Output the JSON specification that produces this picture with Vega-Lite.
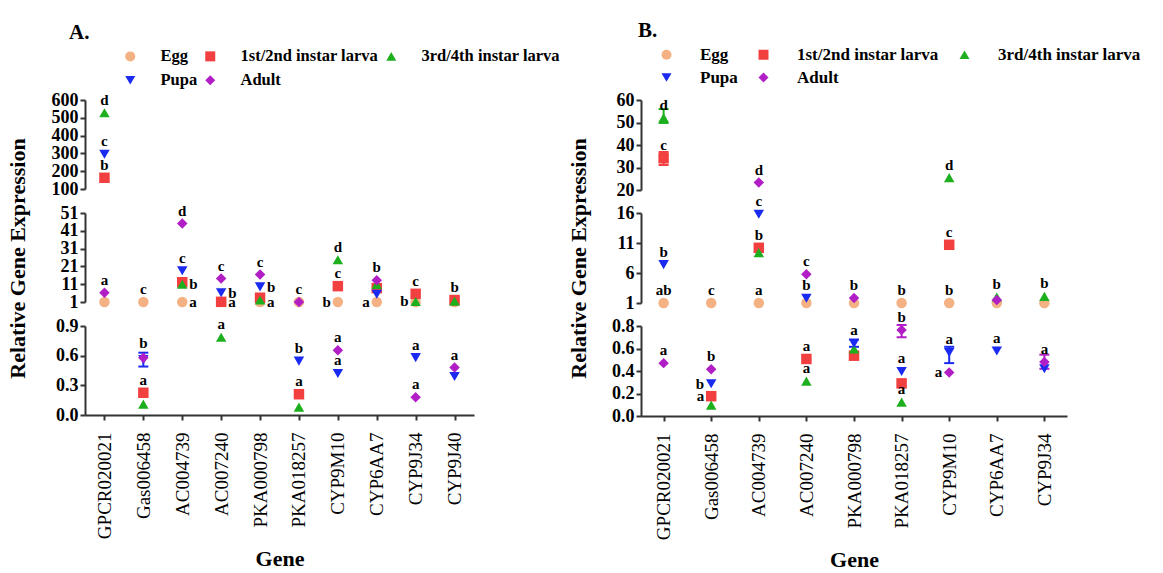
{
"$schema":"https://vega.github.io/schema/vega-lite/v6.json",
"padding":{"left":5,"top":20,"right":5,"bottom":3},
"config":{
 "font":"Liberation Serif",
 "view":{"stroke":null},
 "axis":{"grid":false,"domainColor":"#333333","domainWidth":2,"tickColor":"#333333","tickWidth":2,"tickSize":5,"labelColor":"black","titleColor":"black","labelFont":"Liberation Serif","titleFont":"Liberation Serif"},
 "axisY":{"labelFontSize":18,"labelFontWeight":"bold","labelPadding":2,"labelOverlap":false,"labelFlush":false},
 "axisX":{"labelFontSize":19,"labelFontWeight":"normal","labelAngle":270,"labelPadding":12,"titleFontSize":22,"titleFontWeight":"bold","titlePadding":10,"labelOverlap":false}
},
"datasets":{
 "A":[
  {"gene":"GPCR020021","stage":"Egg","value":1},{"gene":"GPCR020021","stage":"1st/2nd instar larva","value":163},{"gene":"GPCR020021","stage":"3rd/4th instar larva","value":528},{"gene":"GPCR020021","stage":"Pupa","value":295},{"gene":"GPCR020021","stage":"Adult","value":6.2},
  {"gene":"Gas006458","stage":"Egg","value":1},{"gene":"Gas006458","stage":"1st/2nd instar larva","value":0.225},{"gene":"Gas006458","stage":"3rd/4th instar larva","value":0.11},{"gene":"Gas006458","stage":"Pupa","value":0.56},{"gene":"Gas006458","stage":"Adult","value":0.58},
  {"gene":"AC004739","stage":"Egg","value":1},{"gene":"AC004739","stage":"1st/2nd instar larva","value":12.1},{"gene":"AC004739","stage":"3rd/4th instar larva","value":11},{"gene":"AC004739","stage":"Pupa","value":18.6},{"gene":"AC004739","stage":"Adult","value":45.1},
  {"gene":"AC007240","stage":"Egg","value":1},{"gene":"AC007240","stage":"1st/2nd instar larva","value":1.1},{"gene":"AC007240","stage":"3rd/4th instar larva","value":0.787},{"gene":"AC007240","stage":"Pupa","value":6.2},{"gene":"AC007240","stage":"Adult","value":14.2},
  {"gene":"PKA000798","stage":"Egg","value":1},{"gene":"PKA000798","stage":"1st/2nd instar larva","value":3.4},{"gene":"PKA000798","stage":"3rd/4th instar larva","value":2.1},{"gene":"PKA000798","stage":"Pupa","value":9.5},{"gene":"PKA000798","stage":"Adult","value":16.4},
  {"gene":"PKA018257","stage":"Egg","value":1},{"gene":"PKA018257","stage":"1st/2nd instar larva","value":0.21},{"gene":"PKA018257","stage":"3rd/4th instar larva","value":0.08},{"gene":"PKA018257","stage":"Pupa","value":0.545},{"gene":"PKA018257","stage":"Adult","value":1.05},
  {"gene":"CYP9M10","stage":"Egg","value":1},{"gene":"CYP9M10","stage":"1st/2nd instar larva","value":9.9},{"gene":"CYP9M10","stage":"3rd/4th instar larva","value":24.7},{"gene":"CYP9M10","stage":"Pupa","value":0.42},{"gene":"CYP9M10","stage":"Adult","value":0.654},
  {"gene":"CYP6AA7","stage":"Egg","value":1},{"gene":"CYP6AA7","stage":"1st/2nd instar larva","value":8.8},{"gene":"CYP6AA7","stage":"3rd/4th instar larva","value":10.8},{"gene":"CYP6AA7","stage":"Pupa","value":5.4},{"gene":"CYP6AA7","stage":"Adult","value":13.2},
  {"gene":"CYP9J34","stage":"Egg","value":1},{"gene":"CYP9J34","stage":"1st/2nd instar larva","value":5.6},{"gene":"CYP9J34","stage":"3rd/4th instar larva","value":1.3},{"gene":"CYP9J34","stage":"Pupa","value":0.58},{"gene":"CYP9J34","stage":"Adult","value":0.18},
  {"gene":"CYP9J40","stage":"Egg","value":1},{"gene":"CYP9J40","stage":"1st/2nd instar larva","value":2.1},{"gene":"CYP9J40","stage":"3rd/4th instar larva","value":1.5},{"gene":"CYP9J40","stage":"Pupa","value":0.39},{"gene":"CYP9J40","stage":"Adult","value":0.48}
 ],
 "Aerr":[{"gene":"Gas006458","stage":"Pupa","lo":0.49,"hi":0.63}],
 "Aabove":[
  {"gene":"GPCR020021","stage":"1st/2nd instar larva","value":163,"letter":"b"},{"gene":"GPCR020021","stage":"3rd/4th instar larva","value":528,"letter":"d"},{"gene":"GPCR020021","stage":"Pupa","value":295,"letter":"c"},{"gene":"GPCR020021","stage":"Adult","value":6.2,"letter":"a"},
  {"gene":"Gas006458","stage":"Egg","value":1,"letter":"c"},{"gene":"Gas006458","stage":"1st/2nd instar larva","value":0.225,"letter":"a"},{"gene":"Gas006458","stage":"Pupa","value":0.6,"letter":"b"},
  {"gene":"AC004739","stage":"Pupa","value":18.6,"letter":"c"},{"gene":"AC004739","stage":"Adult","value":45.1,"letter":"d"},
  {"gene":"AC007240","stage":"3rd/4th instar larva","value":0.787,"letter":"a"},{"gene":"AC007240","stage":"Adult","value":14.2,"letter":"c"},
  {"gene":"PKA000798","stage":"Adult","value":16.4,"letter":"c"},
  {"gene":"PKA018257","stage":"1st/2nd instar larva","value":0.21,"letter":"a"},{"gene":"PKA018257","stage":"Pupa","value":0.545,"letter":"b"},{"gene":"PKA018257","stage":"Adult","value":1.05,"letter":"c"},
  {"gene":"CYP9M10","stage":"1st/2nd instar larva","value":9.9,"letter":"c"},{"gene":"CYP9M10","stage":"3rd/4th instar larva","value":24.7,"letter":"d"},{"gene":"CYP9M10","stage":"Pupa","value":0.42,"letter":"a"},{"gene":"CYP9M10","stage":"Adult","value":0.654,"letter":"a"},
  {"gene":"CYP6AA7","stage":"Adult","value":13.2,"letter":"b"},
  {"gene":"CYP9J34","stage":"1st/2nd instar larva","value":5.6,"letter":"c"},{"gene":"CYP9J34","stage":"Pupa","value":0.58,"letter":"a"},{"gene":"CYP9J34","stage":"Adult","value":0.18,"letter":"a"},
  {"gene":"CYP9J40","stage":"1st/2nd instar larva","value":2.1,"letter":"b"},{"gene":"CYP9J40","stage":"Adult","value":0.48,"letter":"a"}
 ],
 "Aright":[
  {"gene":"AC004739","stage":"Egg","value":1,"letter":"a"},{"gene":"AC004739","stage":"3rd/4th instar larva","value":11,"letter":"b"},
  {"gene":"AC007240","stage":"1st/2nd instar larva","value":1.1,"letter":"a"},{"gene":"AC007240","stage":"Pupa","value":6.2,"letter":"b"},
  {"gene":"PKA000798","stage":"Egg","value":1,"letter":"a"},{"gene":"PKA000798","stage":"Pupa","value":9.5,"letter":"b"}
 ],
 "Aleft":[
  {"gene":"CYP9M10","stage":"Egg","value":1,"letter":"b"},{"gene":"CYP6AA7","stage":"Egg","value":1,"letter":"a"},{"gene":"CYP9J34","stage":"3rd/4th instar larva","value":1.3,"letter":"b"}
 ],
 "B":[
  {"gene":"GPCR020021","stage":"Egg","value":1},{"gene":"GPCR020021","stage":"1st/2nd instar larva","value":34.1},{"gene":"GPCR020021","stage":"3rd/4th instar larva","value":52.1},{"gene":"GPCR020021","stage":"Pupa","value":7.4},{"gene":"GPCR020021","stage":"Adult","value":0.47},
  {"gene":"Gas006458","stage":"Egg","value":1},{"gene":"Gas006458","stage":"1st/2nd instar larva","value":0.176},{"gene":"Gas006458","stage":"3rd/4th instar larva","value":0.097},{"gene":"Gas006458","stage":"Pupa","value":0.287},{"gene":"Gas006458","stage":"Adult","value":0.416},
  {"gene":"AC004739","stage":"Egg","value":1},{"gene":"AC004739","stage":"1st/2nd instar larva","value":10.2},{"gene":"AC004739","stage":"3rd/4th instar larva","value":9.4},{"gene":"AC004739","stage":"Pupa","value":15.8},{"gene":"AC004739","stage":"Adult","value":23.3},
  {"gene":"AC007240","stage":"Egg","value":1},{"gene":"AC007240","stage":"1st/2nd instar larva","value":0.507},{"gene":"AC007240","stage":"3rd/4th instar larva","value":0.31},{"gene":"AC007240","stage":"Pupa","value":1.8},{"gene":"AC007240","stage":"Adult","value":5.8},
  {"gene":"PKA000798","stage":"Egg","value":1},{"gene":"PKA000798","stage":"1st/2nd instar larva","value":0.536},{"gene":"PKA000798","stage":"3rd/4th instar larva","value":0.595},{"gene":"PKA000798","stage":"Pupa","value":0.645},{"gene":"PKA000798","stage":"Adult","value":1.83},
  {"gene":"PKA018257","stage":"Egg","value":1},{"gene":"PKA018257","stage":"1st/2nd instar larva","value":0.29},{"gene":"PKA018257","stage":"3rd/4th instar larva","value":0.123},{"gene":"PKA018257","stage":"Pupa","value":0.396},{"gene":"PKA018257","stage":"Adult","value":0.765},
  {"gene":"CYP9M10","stage":"Egg","value":1},{"gene":"CYP9M10","stage":"1st/2nd instar larva","value":10.7},{"gene":"CYP9M10","stage":"3rd/4th instar larva","value":25.5},{"gene":"CYP9M10","stage":"Pupa","value":0.565},{"gene":"CYP9M10","stage":"Adult","value":0.387},
  {"gene":"CYP6AA7","stage":"Egg","value":1},{"gene":"CYP6AA7","stage":"3rd/4th instar larva","value":2.0},{"gene":"CYP6AA7","stage":"Pupa","value":0.578},{"gene":"CYP6AA7","stage":"Adult","value":1.5},
  {"gene":"CYP9J34","stage":"Egg","value":1},{"gene":"CYP9J34","stage":"3rd/4th instar larva","value":2.1},{"gene":"CYP9J34","stage":"Pupa","value":0.42},{"gene":"CYP9J34","stage":"Adult","value":0.48}
 ],
 "Berr":[
  {"gene":"GPCR020021","stage":"1st/2nd instar larva","lo":31.1,"hi":36.9},{"gene":"GPCR020021","stage":"3rd/4th instar larva","lo":49.8,"hi":56},
  {"gene":"PKA000798","stage":"Pupa","lo":0.615,"hi":0.68},{"gene":"PKA018257","stage":"Adult","lo":0.7,"hi":0.81},
  {"gene":"CYP9M10","stage":"Pupa","lo":0.47,"hi":0.615},{"gene":"CYP9J34","stage":"Adult","lo":0.42,"hi":0.545}
 ],
 "Babove":[
  {"gene":"GPCR020021","stage":"Egg","value":1,"letter":"ab"},{"gene":"GPCR020021","stage":"1st/2nd instar larva","value":34.1,"letter":"c"},{"gene":"GPCR020021","stage":"3rd/4th instar larva","value":52.1,"letter":"d"},{"gene":"GPCR020021","stage":"Pupa","value":7.4,"letter":"b"},{"gene":"GPCR020021","stage":"Adult","value":0.47,"letter":"a"},
  {"gene":"Gas006458","stage":"Egg","value":1,"letter":"c"},{"gene":"Gas006458","stage":"Adult","value":0.416,"letter":"b"},
  {"gene":"AC004739","stage":"Egg","value":1,"letter":"a"},{"gene":"AC004739","stage":"1st/2nd instar larva","value":10.2,"letter":"b"},{"gene":"AC004739","stage":"Pupa","value":15.8,"letter":"c"},{"gene":"AC004739","stage":"Adult","value":23.3,"letter":"d"},
  {"gene":"AC007240","stage":"1st/2nd instar larva","value":0.507,"letter":"a"},{"gene":"AC007240","stage":"3rd/4th instar larva","value":0.31,"letter":"a"},{"gene":"AC007240","stage":"Pupa","value":1.8,"letter":"b"},{"gene":"AC007240","stage":"Adult","value":5.8,"letter":"c"},
  {"gene":"PKA000798","stage":"Pupa","value":0.645,"letter":"a"},{"gene":"PKA000798","stage":"Adult","value":1.83,"letter":"b"},
  {"gene":"PKA018257","stage":"Egg","value":1,"letter":"b"},{"gene":"PKA018257","stage":"3rd/4th instar larva","value":0.123,"letter":"a"},{"gene":"PKA018257","stage":"Pupa","value":0.396,"letter":"a"},{"gene":"PKA018257","stage":"Adult","value":0.765,"letter":"b"},
  {"gene":"CYP9M10","stage":"Egg","value":1,"letter":"b"},{"gene":"CYP9M10","stage":"1st/2nd instar larva","value":10.7,"letter":"c"},{"gene":"CYP9M10","stage":"3rd/4th instar larva","value":25.5,"letter":"d"},{"gene":"CYP9M10","stage":"Pupa","value":0.565,"letter":"a"},
  {"gene":"CYP6AA7","stage":"3rd/4th instar larva","value":2.0,"letter":"b"},{"gene":"CYP6AA7","stage":"Pupa","value":0.578,"letter":"a"},
  {"gene":"CYP9J34","stage":"3rd/4th instar larva","value":2.1,"letter":"b"},{"gene":"CYP9J34","stage":"Adult","value":0.48,"letter":"a"}
 ],
 "Bleft":[
  {"gene":"Gas006458","stage":"1st/2nd instar larva","value":0.176,"letter":"a"},{"gene":"Gas006458","stage":"Pupa","value":0.287,"letter":"b"},{"gene":"CYP9M10","stage":"Adult","value":0.387,"letter":"a"}
 ]
},
"spacing":6,
"resolve":{"scale":{"color":"independent","shape":"independent"}},
"hconcat":[
 {
  "title":{"text":"A.","anchor":"start","frame":"group","fontSize":21,"fontWeight":"bold","font":"Liberation Serif","color":"black","dx":-16,"offset":5},
  "bounds":"flush",
  "spacing":24,
  "resolve":{"scale":{"color":"shared","shape":"shared","x":"independent","y":"independent"}},
  "vconcat":[
   {
    "width":389,"height":89,
    "encoding":{
     "x":{"field":"gene","type":"nominal","scale":{"type":"point","domain":["GPCR020021","Gas006458","AC004739","AC007240","PKA000798","PKA018257","CYP9M10","CYP6AA7","CYP9J34","CYP9J40"],"padding":0.5},"axis":null},
     "y":{"field":"value","type":"quantitative","scale":{"domain":[100,600],"nice":false,"zero":false},"axis":{"values":[100,200,300,400,500,600],"format":"d","title":null}}
    },
    "layer":[
     {"data":{"name":"A"},"transform":[{"filter":"datum.value >= 100"}],"mark":{"type":"point","filled":true,"size":110,"opacity":1,"strokeWidth":0},
      "encoding":{
       "color":{"field":"stage","type":"nominal","scale":{"domain":["Egg","1st/2nd instar larva","3rd/4th instar larva","Pupa","Adult"],"range":["#F4B183","#F23F3F","#1DAF1D","#1A2AF0","#B21EC6"]},"legend":{"title":null,"orient":"none","direction":"horizontal","legendX":37,"legendY":-52,"columns":3,"labelFont":"Liberation Serif","labelFontSize":16.5,"labelFontWeight":"bold","labelColor":"black","labelOffset":22,"columnPadding":4,"rowPadding":7,"symbolSize":100,"symbolStrokeWidth":0,"symbolOpacity":1,"padding":0,"labelLimit":400}},
       "shape":{"field":"stage","type":"nominal","scale":{"domain":["Egg","1st/2nd instar larva","3rd/4th instar larva","Pupa","Adult"],"range":["circle","square","triangle-up","triangle-down","diamond"]},"legend":{"title":null,"orient":"none","direction":"horizontal","legendX":37,"legendY":-52,"columns":3,"labelFont":"Liberation Serif","labelFontSize":16.5,"labelFontWeight":"bold","labelColor":"black","labelOffset":22,"columnPadding":4,"rowPadding":7,"symbolSize":100,"symbolStrokeWidth":0,"symbolOpacity":1,"padding":0,"labelLimit":400}}
      }},
     {"data":{"name":"Aabove"},"transform":[{"filter":"datum.value >= 100"}],"mark":{"type":"text","dy":-13,"font":"Liberation Serif","fontSize":15,"fontWeight":"bold","color":"black","baseline":"middle","align":"center"},"encoding":{"text":{"field":"letter"}}}
    ]
   },
   {
    "width":389,"height":89,
    "encoding":{
     "x":{"field":"gene","type":"nominal","scale":{"type":"point","domain":["GPCR020021","Gas006458","AC004739","AC007240","PKA000798","PKA018257","CYP9M10","CYP6AA7","CYP9J34","CYP9J40"],"padding":0.5},"axis":null},
     "y":{"field":"value","type":"quantitative","scale":{"domain":[1,51],"nice":false,"zero":false},"axis":{"values":[1,11,21,31,41,51],"format":"d","title":"Relative Gene Expression","titleFontSize":22,"titleFontWeight":"bold","titleX":-56,"titleY":45,"titleAngle":270,"titleBaseline":"bottom","titleAlign":"center"}}
    },
    "layer":[
     {"data":{"name":"A"},"transform":[{"filter":"datum.value >= 1 && datum.value < 100"}],"mark":{"type":"point","filled":true,"size":110,"opacity":1,"strokeWidth":0},
      "encoding":{
       "color":{"field":"stage","type":"nominal","scale":{"domain":["Egg","1st/2nd instar larva","3rd/4th instar larva","Pupa","Adult"],"range":["#F4B183","#F23F3F","#1DAF1D","#1A2AF0","#B21EC6"]},"legend":{"title":null,"orient":"none","direction":"horizontal","legendX":37,"legendY":-52,"columns":3,"labelFont":"Liberation Serif","labelFontSize":16.5,"labelFontWeight":"bold","labelColor":"black","labelOffset":22,"columnPadding":4,"rowPadding":7,"symbolSize":100,"symbolStrokeWidth":0,"symbolOpacity":1,"padding":0,"labelLimit":400}},
       "shape":{"field":"stage","type":"nominal","scale":{"domain":["Egg","1st/2nd instar larva","3rd/4th instar larva","Pupa","Adult"],"range":["circle","square","triangle-up","triangle-down","diamond"]},"legend":{"title":null,"orient":"none","direction":"horizontal","legendX":37,"legendY":-52,"columns":3,"labelFont":"Liberation Serif","labelFontSize":16.5,"labelFontWeight":"bold","labelColor":"black","labelOffset":22,"columnPadding":4,"rowPadding":7,"symbolSize":100,"symbolStrokeWidth":0,"symbolOpacity":1,"padding":0,"labelLimit":400}}
      }},
     {"data":{"name":"Aabove"},"transform":[{"filter":"datum.value >= 1 && datum.value < 100"}],"mark":{"type":"text","dy":-13,"font":"Liberation Serif","fontSize":15,"fontWeight":"bold","color":"black","baseline":"middle","align":"center"},"encoding":{"text":{"field":"letter"}}},
     {"data":{"name":"Aright"},"transform":[{"filter":"datum.value >= 1 && datum.value < 100"}],"mark":{"type":"text","dx":7,"font":"Liberation Serif","fontSize":15,"fontWeight":"bold","color":"black","baseline":"middle","align":"left"},"encoding":{"text":{"field":"letter"}}},
     {"data":{"name":"Aleft"},"transform":[{"filter":"datum.value >= 1 && datum.value < 100"}],"mark":{"type":"text","dx":-7,"font":"Liberation Serif","fontSize":15,"fontWeight":"bold","color":"black","baseline":"middle","align":"right"},"encoding":{"text":{"field":"letter"}}}
    ]
   },
   {
    "width":389,"height":89,
    "encoding":{
     "x":{"field":"gene","type":"nominal","scale":{"type":"point","domain":["GPCR020021","Gas006458","AC004739","AC007240","PKA000798","PKA018257","CYP9M10","CYP6AA7","CYP9J34","CYP9J40"],"padding":0.5},"axis":{"title":"Gene"}},
     "y":{"field":"value","type":"quantitative","scale":{"domain":[0,0.9],"nice":false,"zero":false},"axis":{"values":[0,0.3,0.6,0.9],"format":".1f","title":null}}
    },
    "layer":[
     {"data":{"name":"Aerr"},"mark":{"type":"rule","strokeWidth":2},"encoding":{"y":{"field":"lo","type":"quantitative"},"y2":{"field":"hi"},"stroke":{"field":"stage","type":"nominal","scale":{"domain":["Egg","1st/2nd instar larva","3rd/4th instar larva","Pupa","Adult"],"range":["#F4B183","#F23F3F","#1DAF1D","#1A2AF0","#B21EC6"]},"legend":null}}},
     {"data":{"name":"Aerr"},"mark":{"type":"tick","thickness":2,"size":10,"opacity":1},"encoding":{"y":{"field":"lo","type":"quantitative"},"fill":{"field":"stage","type":"nominal","scale":{"domain":["Egg","1st/2nd instar larva","3rd/4th instar larva","Pupa","Adult"],"range":["#F4B183","#F23F3F","#1DAF1D","#1A2AF0","#B21EC6"]},"legend":null}}},
     {"data":{"name":"Aerr"},"mark":{"type":"tick","thickness":2,"size":10,"opacity":1},"encoding":{"y":{"field":"hi","type":"quantitative"},"fill":{"field":"stage","type":"nominal","scale":{"domain":["Egg","1st/2nd instar larva","3rd/4th instar larva","Pupa","Adult"],"range":["#F4B183","#F23F3F","#1DAF1D","#1A2AF0","#B21EC6"]},"legend":null}}},
     {"data":{"name":"A"},"transform":[{"filter":"datum.value < 1"}],"mark":{"type":"point","filled":true,"size":110,"opacity":1,"strokeWidth":0},
      "encoding":{
       "color":{"field":"stage","type":"nominal","scale":{"domain":["Egg","1st/2nd instar larva","3rd/4th instar larva","Pupa","Adult"],"range":["#F4B183","#F23F3F","#1DAF1D","#1A2AF0","#B21EC6"]},"legend":{"title":null,"orient":"none","direction":"horizontal","legendX":37,"legendY":-52,"columns":3,"labelFont":"Liberation Serif","labelFontSize":16.5,"labelFontWeight":"bold","labelColor":"black","labelOffset":22,"columnPadding":4,"rowPadding":7,"symbolSize":100,"symbolStrokeWidth":0,"symbolOpacity":1,"padding":0,"labelLimit":400}},
       "shape":{"field":"stage","type":"nominal","scale":{"domain":["Egg","1st/2nd instar larva","3rd/4th instar larva","Pupa","Adult"],"range":["circle","square","triangle-up","triangle-down","diamond"]},"legend":{"title":null,"orient":"none","direction":"horizontal","legendX":37,"legendY":-52,"columns":3,"labelFont":"Liberation Serif","labelFontSize":16.5,"labelFontWeight":"bold","labelColor":"black","labelOffset":22,"columnPadding":4,"rowPadding":7,"symbolSize":100,"symbolStrokeWidth":0,"symbolOpacity":1,"padding":0,"labelLimit":400}}
      }},
     {"data":{"name":"Aabove"},"transform":[{"filter":"datum.value < 1"}],"mark":{"type":"text","dy":-13,"font":"Liberation Serif","fontSize":15,"fontWeight":"bold","color":"black","baseline":"middle","align":"center"},"encoding":{"text":{"field":"letter"}}}
    ]
   }
  ]
 },
 {
  "title":{"text":"B.","anchor":"start","frame":"group","fontSize":21,"fontWeight":"bold","font":"Liberation Serif","color":"black","dx":-3,"offset":5},
  "bounds":"flush",
  "spacing":23,
  "resolve":{"scale":{"color":"shared","shape":"shared","x":"independent","y":"independent"}},
  "vconcat":[
   {
    "width":426,"height":90,
    "encoding":{
     "x":{"field":"gene","type":"nominal","scale":{"type":"point","domain":["GPCR020021","Gas006458","AC004739","AC007240","PKA000798","PKA018257","CYP9M10","CYP6AA7","CYP9J34"],"padding":0.475},"axis":null},
     "y":{"field":"value","type":"quantitative","scale":{"domain":[20,60],"nice":false,"zero":false},"axis":{"values":[20,30,40,50,60],"format":"d","title":null}}
    },
    "layer":[
     {"data":{"name":"Berr"},"transform":[{"filter":"datum.hi >= 20"}],"mark":{"type":"rule","strokeWidth":2},"encoding":{"y":{"field":"lo","type":"quantitative"},"y2":{"field":"hi"},"stroke":{"field":"stage","type":"nominal","scale":{"domain":["Egg","1st/2nd instar larva","3rd/4th instar larva","Pupa","Adult"],"range":["#F4B183","#F23F3F","#1DAF1D","#1A2AF0","#B21EC6"]},"legend":null}}},
     {"data":{"name":"Berr"},"transform":[{"filter":"datum.hi >= 20"}],"mark":{"type":"tick","thickness":2,"size":10,"opacity":1},"encoding":{"y":{"field":"lo","type":"quantitative"},"fill":{"field":"stage","type":"nominal","scale":{"domain":["Egg","1st/2nd instar larva","3rd/4th instar larva","Pupa","Adult"],"range":["#F4B183","#F23F3F","#1DAF1D","#1A2AF0","#B21EC6"]},"legend":null}}},
     {"data":{"name":"Berr"},"transform":[{"filter":"datum.hi >= 20"}],"mark":{"type":"tick","thickness":2,"size":10,"opacity":1},"encoding":{"y":{"field":"hi","type":"quantitative"},"fill":{"field":"stage","type":"nominal","scale":{"domain":["Egg","1st/2nd instar larva","3rd/4th instar larva","Pupa","Adult"],"range":["#F4B183","#F23F3F","#1DAF1D","#1A2AF0","#B21EC6"]},"legend":null}}},
     {"data":{"name":"B"},"transform":[{"filter":"datum.value >= 20"}],"mark":{"type":"point","filled":true,"size":110,"opacity":1,"strokeWidth":0},
      "encoding":{
       "color":{"field":"stage","type":"nominal","scale":{"domain":["Egg","1st/2nd instar larva","3rd/4th instar larva","Pupa","Adult"],"range":["#F4B183","#F23F3F","#1DAF1D","#1A2AF0","#B21EC6"]},"legend":{"title":null,"orient":"none","direction":"horizontal","legendX":17,"legendY":-54,"columns":3,"labelFont":"Liberation Serif","labelFontSize":17,"labelFontWeight":"bold","labelColor":"black","labelOffset":25,"columnPadding":17,"rowPadding":5,"symbolSize":100,"symbolStrokeWidth":0,"symbolOpacity":1,"padding":0,"labelLimit":400}},
       "shape":{"field":"stage","type":"nominal","scale":{"domain":["Egg","1st/2nd instar larva","3rd/4th instar larva","Pupa","Adult"],"range":["circle","square","triangle-up","triangle-down","diamond"]},"legend":{"title":null,"orient":"none","direction":"horizontal","legendX":17,"legendY":-54,"columns":3,"labelFont":"Liberation Serif","labelFontSize":17,"labelFontWeight":"bold","labelColor":"black","labelOffset":25,"columnPadding":17,"rowPadding":5,"symbolSize":100,"symbolStrokeWidth":0,"symbolOpacity":1,"padding":0,"labelLimit":400}}
      }},
     {"data":{"name":"Babove"},"transform":[{"filter":"datum.value >= 20"}],"mark":{"type":"text","dy":-13,"font":"Liberation Serif","fontSize":15,"fontWeight":"bold","color":"black","baseline":"middle","align":"center"},"encoding":{"text":{"field":"letter"}}}
    ]
   },
   {
    "width":426,"height":90,
    "encoding":{
     "x":{"field":"gene","type":"nominal","scale":{"type":"point","domain":["GPCR020021","Gas006458","AC004739","AC007240","PKA000798","PKA018257","CYP9M10","CYP6AA7","CYP9J34"],"padding":0.475},"axis":null},
     "y":{"field":"value","type":"quantitative","scale":{"domain":[1,16],"nice":false,"zero":false},"axis":{"values":[1,6,11,16],"format":"d","title":"Relative Gene Expression","titleFontSize":22,"titleFontWeight":"bold","titleX":-51,"titleY":45,"titleAngle":270,"titleBaseline":"bottom","titleAlign":"center"}}
    },
    "layer":[
     {"data":{"name":"B"},"transform":[{"filter":"datum.value >= 1 && datum.value < 20"}],"mark":{"type":"point","filled":true,"size":110,"opacity":1,"strokeWidth":0},
      "encoding":{
       "color":{"field":"stage","type":"nominal","scale":{"domain":["Egg","1st/2nd instar larva","3rd/4th instar larva","Pupa","Adult"],"range":["#F4B183","#F23F3F","#1DAF1D","#1A2AF0","#B21EC6"]},"legend":{"title":null,"orient":"none","direction":"horizontal","legendX":17,"legendY":-54,"columns":3,"labelFont":"Liberation Serif","labelFontSize":17,"labelFontWeight":"bold","labelColor":"black","labelOffset":25,"columnPadding":17,"rowPadding":5,"symbolSize":100,"symbolStrokeWidth":0,"symbolOpacity":1,"padding":0,"labelLimit":400}},
       "shape":{"field":"stage","type":"nominal","scale":{"domain":["Egg","1st/2nd instar larva","3rd/4th instar larva","Pupa","Adult"],"range":["circle","square","triangle-up","triangle-down","diamond"]},"legend":{"title":null,"orient":"none","direction":"horizontal","legendX":17,"legendY":-54,"columns":3,"labelFont":"Liberation Serif","labelFontSize":17,"labelFontWeight":"bold","labelColor":"black","labelOffset":25,"columnPadding":17,"rowPadding":5,"symbolSize":100,"symbolStrokeWidth":0,"symbolOpacity":1,"padding":0,"labelLimit":400}}
      }},
     {"data":{"name":"Babove"},"transform":[{"filter":"datum.value >= 1 && datum.value < 20"}],"mark":{"type":"text","dy":-13,"font":"Liberation Serif","fontSize":15,"fontWeight":"bold","color":"black","baseline":"middle","align":"center"},"encoding":{"text":{"field":"letter"}}}
    ]
   },
   {
    "width":426,"height":90,
    "encoding":{
     "x":{"field":"gene","type":"nominal","scale":{"type":"point","domain":["GPCR020021","Gas006458","AC004739","AC007240","PKA000798","PKA018257","CYP9M10","CYP6AA7","CYP9J34"],"padding":0.475},"axis":{"title":"Gene"}},
     "y":{"field":"value","type":"quantitative","scale":{"domain":[0,0.8],"nice":false,"zero":false},"axis":{"values":[0,0.2,0.4,0.6,0.8],"format":".1f","title":null}}
    },
    "layer":[
     {"data":{"name":"Berr"},"transform":[{"filter":"datum.hi < 1"}],"mark":{"type":"rule","strokeWidth":2},"encoding":{"y":{"field":"lo","type":"quantitative"},"y2":{"field":"hi"},"stroke":{"field":"stage","type":"nominal","scale":{"domain":["Egg","1st/2nd instar larva","3rd/4th instar larva","Pupa","Adult"],"range":["#F4B183","#F23F3F","#1DAF1D","#1A2AF0","#B21EC6"]},"legend":null}}},
     {"data":{"name":"Berr"},"transform":[{"filter":"datum.hi < 1"}],"mark":{"type":"tick","thickness":2,"size":10,"opacity":1},"encoding":{"y":{"field":"lo","type":"quantitative"},"fill":{"field":"stage","type":"nominal","scale":{"domain":["Egg","1st/2nd instar larva","3rd/4th instar larva","Pupa","Adult"],"range":["#F4B183","#F23F3F","#1DAF1D","#1A2AF0","#B21EC6"]},"legend":null}}},
     {"data":{"name":"Berr"},"transform":[{"filter":"datum.hi < 1"}],"mark":{"type":"tick","thickness":2,"size":10,"opacity":1},"encoding":{"y":{"field":"hi","type":"quantitative"},"fill":{"field":"stage","type":"nominal","scale":{"domain":["Egg","1st/2nd instar larva","3rd/4th instar larva","Pupa","Adult"],"range":["#F4B183","#F23F3F","#1DAF1D","#1A2AF0","#B21EC6"]},"legend":null}}},
     {"data":{"name":"B"},"transform":[{"filter":"datum.value < 1"}],"mark":{"type":"point","filled":true,"size":110,"opacity":1,"strokeWidth":0},
      "encoding":{
       "color":{"field":"stage","type":"nominal","scale":{"domain":["Egg","1st/2nd instar larva","3rd/4th instar larva","Pupa","Adult"],"range":["#F4B183","#F23F3F","#1DAF1D","#1A2AF0","#B21EC6"]},"legend":{"title":null,"orient":"none","direction":"horizontal","legendX":17,"legendY":-54,"columns":3,"labelFont":"Liberation Serif","labelFontSize":17,"labelFontWeight":"bold","labelColor":"black","labelOffset":25,"columnPadding":17,"rowPadding":5,"symbolSize":100,"symbolStrokeWidth":0,"symbolOpacity":1,"padding":0,"labelLimit":400}},
       "shape":{"field":"stage","type":"nominal","scale":{"domain":["Egg","1st/2nd instar larva","3rd/4th instar larva","Pupa","Adult"],"range":["circle","square","triangle-up","triangle-down","diamond"]},"legend":{"title":null,"orient":"none","direction":"horizontal","legendX":17,"legendY":-54,"columns":3,"labelFont":"Liberation Serif","labelFontSize":17,"labelFontWeight":"bold","labelColor":"black","labelOffset":25,"columnPadding":17,"rowPadding":5,"symbolSize":100,"symbolStrokeWidth":0,"symbolOpacity":1,"padding":0,"labelLimit":400}}
      }},
     {"data":{"name":"Babove"},"transform":[{"filter":"datum.value < 1"}],"mark":{"type":"text","dy":-13,"font":"Liberation Serif","fontSize":15,"fontWeight":"bold","color":"black","baseline":"middle","align":"center"},"encoding":{"text":{"field":"letter"}}},
     {"data":{"name":"Bleft"},"transform":[{"filter":"datum.value < 1"}],"mark":{"type":"text","dx":-7,"font":"Liberation Serif","fontSize":15,"fontWeight":"bold","color":"black","baseline":"middle","align":"right"},"encoding":{"text":{"field":"letter"}}}
    ]
   }
  ]
 }
]
}
